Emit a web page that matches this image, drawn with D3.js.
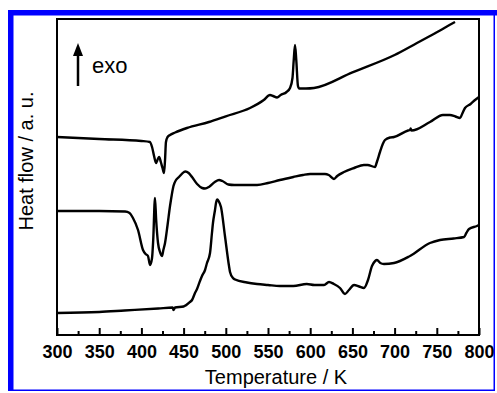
<!DOCTYPE html>
<html>
<head>
<meta charset="utf-8">
<script src="https://cdn.jsdelivr.net/npm/d3@7"></script>
<style>
  body { margin: 0; background: #fff; }
  svg { display: block; font-family: "Liberation Sans", Arial, sans-serif; }
</style>
</head>
<body>
<svg id="chart" width="497" height="393"></svg>
<script>
// temperature (K) / heat flow (a.u.)
const curveTop = [
  [300,198],[350,196],[400,194],[410,193],[412.6,188],[415,179],[417.3,172],[419.5,176],[421,178],
  [423,173],[425,167],[426.8,162],[428,175],[429.1,193],[431,198],[433.9,200],[440,202.5],[454,207],
  [480,213],[500,218.7],[528.7,227],[545,235],[552.4,240],[556,239],[560.7,237.5],[565,240],[572,243],
  [576.1,247],[579,257],[580.5,275],[582,290],[583.5,275],[585.5,249],[587,246.5],[595,246.5],
  [604.5,247],[650,262.7],[700,280],[726.5,292],[741.9,299],[753.8,304.5],[765,310],[771.6,313]
];
const curveMid = [
  [300,124],[350,124],[380.6,123.5],[386,122],[390,117],[396,105],[401.9,85],[405,81],[407.8,79],
  [410.2,70],[412.6,77],[414,95],[416.1,137],[417.5,115],[419.7,92],[422,83],[424.4,79],[426,85],
  [428,92],[431,110],[433.9,129],[435,135],[438,149],[441,155],[444.5,158],[450.5,163],[452,163.5],
  [456,162],[460,158],[466,151],[472,147],[475.4,146.5],[480,148],[487,153],[492,155],[496,154],
  [503,150.5],[510,150],[525,150],[537,150],[550,152],[564,155],[580,158],[591.5,160],[600,161],
  [611.6,161],[617.5,161],[622,160],[628.2,156],[632,159],[640,163],[652,167],[663.7,170],[668,170],
  [676.8,168],[679,173],[682.7,183],[686,191],[688.6,195],[694.5,197.5],[699.3,198],[716,204.5],
  [718.3,205],[719,206.5],[720,204.5],[741.9,213],[757.3,220],[765.6,220],[772,218.5],[777.5,217],
  [780,221],[783.4,227],[790,231],[795.3,235],[800,238]
];
const curveLow = [
  [300,22],[350,23],[380,24.5],[420,26.5],[437,27.5],[438,25],[440,27.5],[450,28.5],[457.6,33],
  [460,35],[463.5,42],[465.9,46],[469.4,54],[471.8,59],[475.4,65],[477.7,72],[481.3,82],[483.6,102],
  [484.8,112],[487.2,125],[488.4,132],[490,135.5],[491.5,134],[494.3,128],[499,99],[503.8,69],
  [505,63],[508.5,57],[511,55.5],[525,52.5],[537,51],[550,50],[564,49],[580,49],[596,51],[605,50],
  [616.4,50],[622.3,53],[628,51],[635.3,47],[641.2,41],[645.9,45],[651.9,50],[658,48.5],[663.7,47],
  [668.5,55],[673.2,69],[677,74],[679.1,75],[683,72],[687.4,71],[699.3,72],[718.3,79],[741.9,92],
  [753.8,95],[770,96.5],[782.2,98],[785,102],[788.2,106],[797.6,109],[800,110]
];
const majorTicks = [300, 350, 400, 450, 500, 550, 600, 650, 700, 750, 800];
const minorTicks = [325, 375, 425, 475, 525, 575, 625, 675, 725, 775];

const margin = { top: 19, right: 18, bottom: 58, left: 57 },
    width = 497 - margin.left - margin.right,
    height = 393 - margin.top - margin.bottom;

const svg = d3.select("#chart");

// blue frame round the figure
svg.append("rect").attr("x", 8).attr("y", 10).attr("width", 5.5).attr("height", 381).attr("fill", "#0000ff");
svg.append("rect").attr("x", 8).attr("y", 10).attr("width", 489).attr("height", 5.5).attr("fill", "#0000ff");
svg.append("rect").attr("x", 493.5).attr("y", 10).attr("width", 1.5).attr("height", 381).attr("fill", "#0000ff");
svg.append("rect").attr("x", 8).attr("y", 389.5).attr("width", 487).attr("height", 1.5).attr("fill", "#0000ff");

const g = svg.append("g")
    .attr("transform", `translate(${margin.left},${margin.top})`);

const x = d3.scaleLinear().domain([300, 800]).range([0, width]);
const y = d3.scaleLinear().domain([0, 316]).range([height, 0]);

g.append("g")
    .attr("transform", `translate(0,${height})`)
    .call(d3.axisBottom(x).tickValues(majorTicks).tickSize(-7).tickPadding(10).tickFormat(d3.format("d")))
    .call(a => a.select(".domain").remove())
    .call(a => a.selectAll("line").attr("stroke-width", 2))
    .selectAll("text")
    .attr("font-size", 18)
    .attr("font-weight", "bold")
    .attr("font-family", "Liberation Sans, Arial, sans-serif")
    .attr("fill", "#000");

g.append("g")
    .attr("transform", `translate(0,${height})`)
    .call(d3.axisBottom(x).tickValues(minorTicks).tickSize(-4).tickFormat(""))
    .call(a => a.select(".domain").remove())
    .call(a => a.selectAll("line").attr("stroke-width", 2));

const line = d3.line()
    .x(d => x(d[0]))
    .y(d => y(d[1]))
    .curve(d3.curveMonotoneX);

[curveTop, curveMid, curveLow].forEach(c => {
    g.append("path")
        .datum(c)
        .attr("fill", "none")
        .attr("stroke", "#000")
        .attr("stroke-width", 2.4)
        .attr("stroke-linejoin", "round")
        .attr("d", line);
});

g.append("rect")
    .attr("width", width)
    .attr("height", height)
    .attr("fill", "none")
    .attr("stroke", "#000")
    .attr("stroke-width", 2);

// exo arrow
g.append("line")
    .attr("x1", 21).attr("x2", 21)
    .attr("y1", 67).attr("y2", 34)
    .attr("stroke", "#000").attr("stroke-width", 2.5);
g.append("path")
    .attr("d", "M21,24 L16,37 L26,37 Z")
    .attr("fill", "#000");
g.append("text")
    .attr("x", 35).attr("y", 54)
    .attr("font-size", 22)
    .text("exo");

svg.append("text")
    .attr("x", 276).attr("y", 384)
    .attr("text-anchor", "middle")
    .attr("font-size", 20)
    .text("Temperature / K");

svg.append("text")
    .attr("transform", "translate(33,161) rotate(-90)")
    .attr("text-anchor", "middle")
    .attr("font-size", 20)
    .text("Heat flow / a. u.");
</script>
</body>
</html>
